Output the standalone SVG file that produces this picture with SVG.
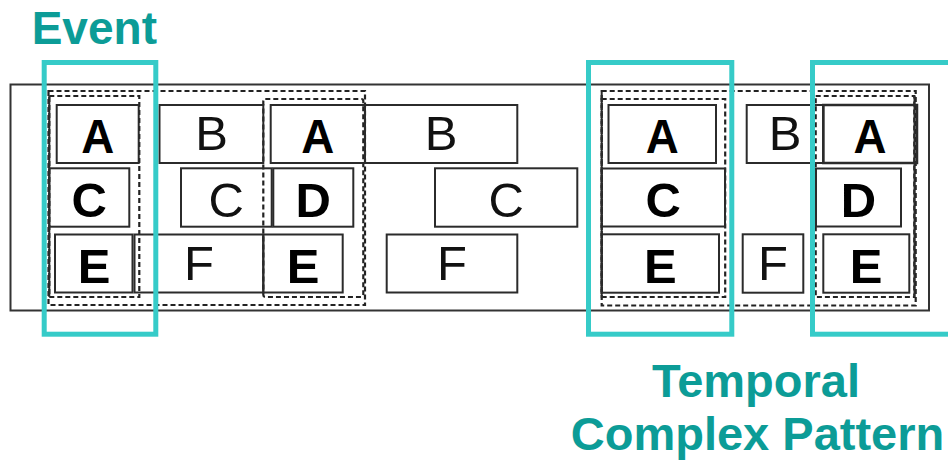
<svg xmlns="http://www.w3.org/2000/svg" width="948" height="462" viewBox="0 0 948 462">
<style>
.frame{fill:none;stroke:#333;stroke-width:2}
.box{fill:none;stroke:#2b2b2b;stroke-width:2}
.dash{fill:none;stroke:#222;stroke-width:2.2;stroke-dasharray:5 3}
.solid{fill:none;stroke:#2b2b2b;stroke-width:2}
.bl{font-family:"Liberation Sans",Arial,sans-serif;font-weight:bold;font-size:49px;fill:#000;text-anchor:middle}
.rl{font-family:"Liberation Sans",Arial,sans-serif;font-size:49px;fill:#111;text-anchor:middle}
.teal{fill:none;stroke:#36CBC8;stroke-width:5}
.title{font-family:"Liberation Sans",Arial,sans-serif;font-weight:bold;fill:#0C9C97}
</style>
<rect width="948" height="462" fill="#fff"/>
<rect id="timeline" class="frame" x="10.5" y="84.5" width="918.5" height="226"/>

<g id="left-pattern">
  <rect class="dash" x="48.5" y="91" width="316.5" height="214"/>
  <rect class="dash" x="49.3" y="96" width="90" height="201"/>
  <line class="solid" x1="49.3" y1="96" x2="49.3" y2="297"/>
  <rect class="dash" x="263.3" y="99" width="100" height="198" rx="2"/>
</g>

<g id="node-A1"><rect class="box" x="56.7" y="105" width="82" height="58"/><text class="bl" x="97.7" y="153" textLength="33" lengthAdjust="spacingAndGlyphs">A</text></g>
<g id="node-B1"><rect class="box" x="159.5" y="105" width="103.8" height="58"/><text class="rl" x="211.5" y="150">B</text></g>
<g id="node-A2"><rect class="box" x="270.7" y="105" width="94.3" height="58"/><text class="bl" x="317.8" y="153" textLength="33" lengthAdjust="spacingAndGlyphs">A</text></g>
<g id="node-B2"><rect class="box" x="365" y="105" width="152.3" height="58"/><text class="rl" x="441.2" y="150">B</text></g>
<g id="node-C1"><rect class="box" x="49.3" y="168.3" width="80" height="58.4"/><text class="bl" x="89.3" y="217">C</text></g>
<g id="node-C2"><rect class="box" x="181" y="168.3" width="90.7" height="58.4"/><text class="rl" x="226.3" y="216.5">C</text></g>
<g id="node-D1"><rect class="box" x="273.3" y="168.3" width="80" height="58.4"/><text class="bl" x="313.3" y="217">D</text></g>
<g id="node-C3"><rect class="box" x="435" y="168.3" width="142.3" height="58.4"/><text class="rl" x="506.2" y="216.5">C</text></g>
<g id="node-E1"><rect class="box" x="55" y="234.5" width="77.5" height="58"/><text class="bl" x="94.2" y="282.7">E</text></g>
<g id="node-F1"><rect class="box" x="134.5" y="234.5" width="128.8" height="58"/><text class="rl" x="198.9" y="279.5">F</text></g>
<g id="node-E2"><rect class="box" x="263.3" y="234.5" width="79.4" height="58"/><text class="bl" x="303" y="282.7">E</text></g>
<g id="node-F2"><rect class="box" x="386.7" y="234.5" width="130.6" height="58"/><text class="rl" x="452" y="279.5">F</text></g>

<g id="right-pattern">
  <rect class="dash" x="601.7" y="91" width="314" height="214.5"/>
  <rect class="dash" x="601.7" y="99" width="123.5" height="198"/>
  <line class="solid" x1="601.7" y1="92" x2="601.7" y2="298"/>
  <rect class="dash" x="815.7" y="96" width="98.6" height="201"/>
  <line class="solid" x1="914.5" y1="96" x2="914.5" y2="297"/>
</g>

<g id="node-A3"><rect class="box" x="608.5" y="105" width="107.5" height="58"/><text class="bl" x="662.3" y="153" textLength="33" lengthAdjust="spacingAndGlyphs">A</text></g>
<g id="node-C4"><rect class="box" x="601.7" y="168.5" width="123.3" height="58"/><text class="bl" x="663.3" y="217">C</text></g>
<g id="node-E3"><rect class="box" x="601.7" y="234.3" width="117.3" height="58.4"/><text class="bl" x="660.3" y="282.7">E</text></g>
<g id="node-B3"><rect class="box" x="746.7" y="105" width="76.6" height="58"/><text class="rl" x="785" y="150">B</text></g>
<g id="node-A4"><rect class="box" x="823.3" y="105" width="93.7" height="58" style="stroke-width:2.5"/><text class="bl" x="870" y="153" textLength="33" lengthAdjust="spacingAndGlyphs">A</text></g>
<g id="node-D2"><rect class="box" x="816" y="168.5" width="85" height="58"/><text class="bl" x="858.5" y="217">D</text></g>
<g id="node-F3"><rect class="box" x="742.7" y="234.3" width="60.6" height="58.4"/><text class="rl" x="773" y="279.5">F</text></g>
<g id="node-E4"><rect class="box" x="823.3" y="234.3" width="86" height="58.4"/><text class="bl" x="866" y="282.7">E</text></g>

<g id="connectors"></g>

<g id="highlight-event">
  <rect class="teal" x="44.2" y="62.5" width="111.6" height="271.7"/>
  <text class="title" x="31.7" y="44.3" font-size="46">Event</text>
</g>
<g id="highlight-pattern">
  <rect class="teal" x="588.5" y="62.5" width="143.3" height="271.7"/>
  <rect class="teal" x="812.5" y="62.5" width="200" height="271.7"/>
  <text class="title" x="756" y="396.7" font-size="47" text-anchor="middle">Temporal</text>
  <text class="title" x="757.5" y="450" font-size="47" text-anchor="middle">Complex Pattern</text>
</g>
</svg>
